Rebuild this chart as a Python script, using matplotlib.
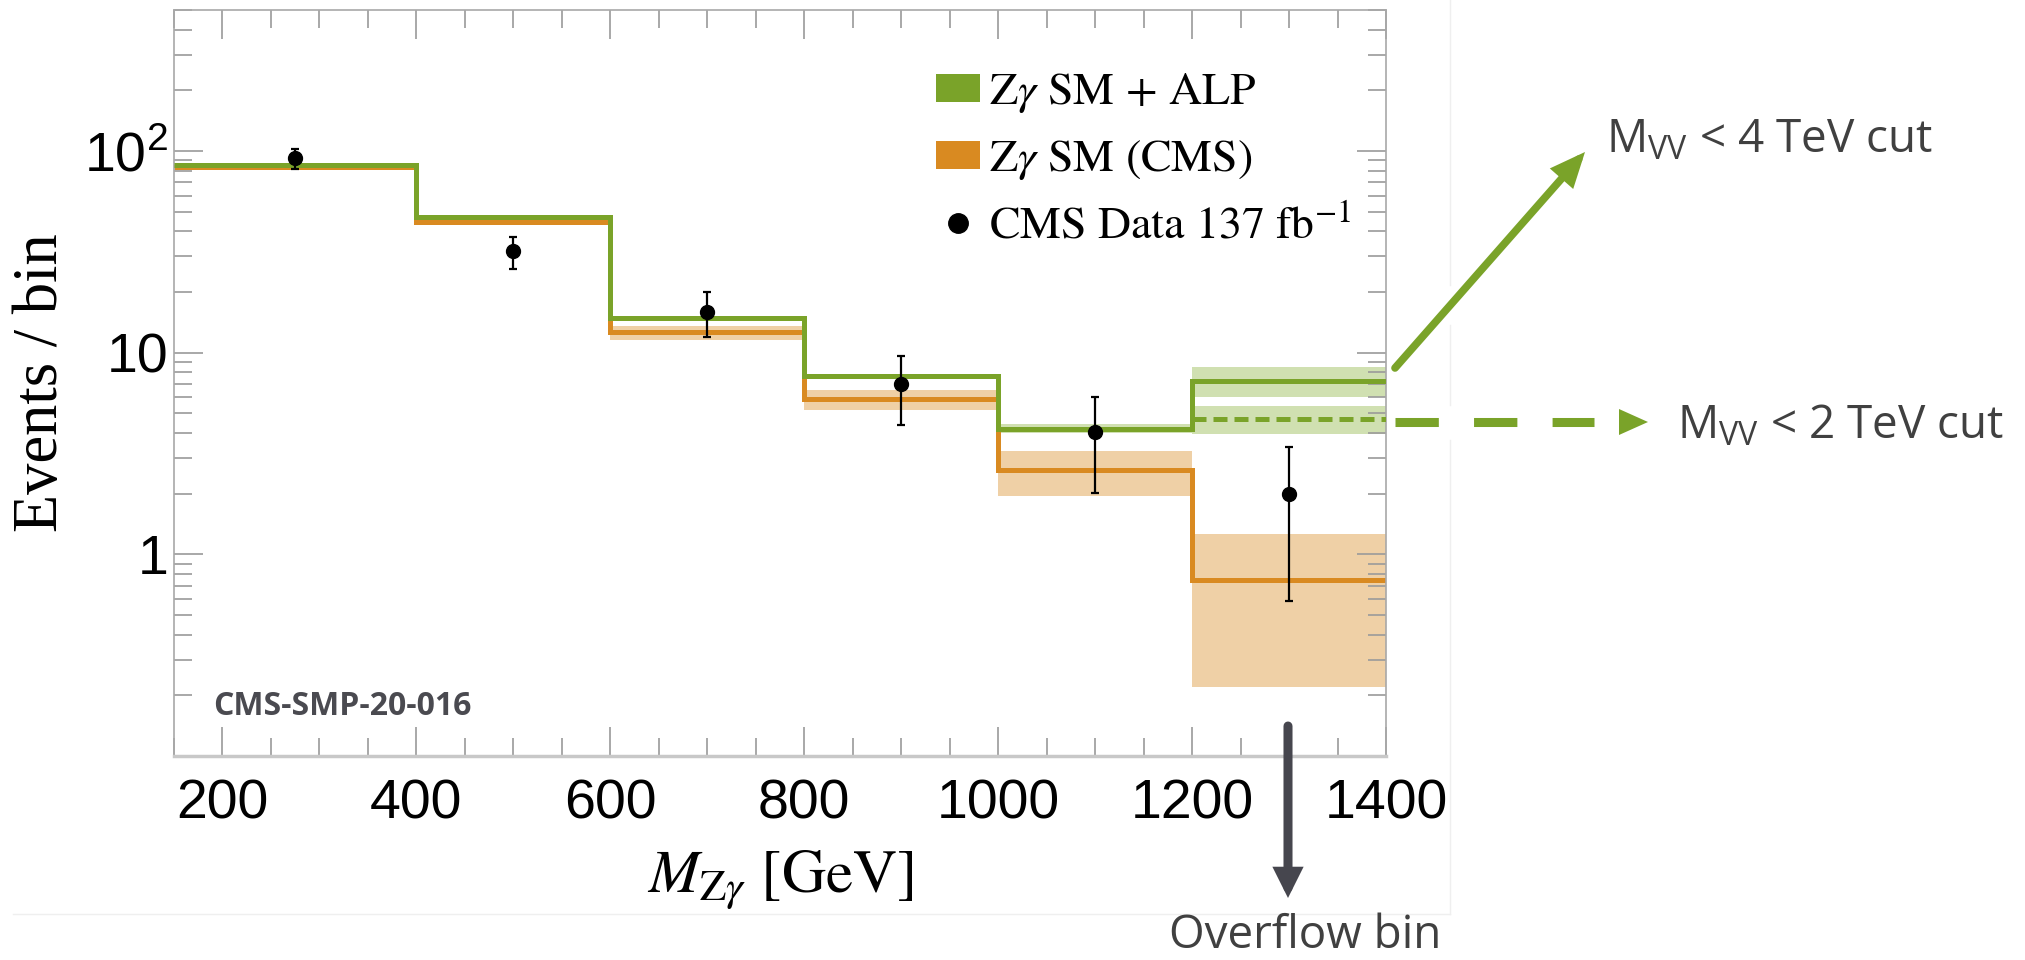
import numpy as np
import matplotlib.pyplot as plt
from matplotlib.patches import Patch, FancyArrowPatch, Polygon
from matplotlib.lines import Line2D

plt.rcParams['font.family'] = 'Liberation Sans'
plt.rcParams['mathtext.fontset'] = 'custom'
plt.rcParams['mathtext.rm'] = 'Open Sans'
plt.rcParams['mathtext.sf'] = 'Liberation Sans'

# bins in M_Zgamma [GeV]
edges = [150, 400, 600, 800, 1000, 1200, 1400]
centers = [275, 500, 700, 900, 1100, 1300]

# Z gamma SM + ALP (M_VV < 4 TeV)
alp = [85, 46.8, 14.8, 7.7, 4.2, 7.25]
alp_lo = [np.nan, np.nan, np.nan, np.nan, 3.98, 6.0]
alp_hi = [np.nan, np.nan, np.nan, np.nan, 4.45, 8.5]
# overflow bin with M_VV < 2 TeV
alp2 = [4.68]
alp2_lo = [3.93]
alp2_hi = [5.44]

# Z gamma SM (CMS)
sm = [83, 44.6, 12.6, 5.86, 2.62, 0.75]
sm_lo = [np.nan, np.nan, 11.6, 5.2, 1.94, 0.22]
sm_hi = [np.nan, np.nan, 13.6, 6.5, 3.26, 1.26]

# CMS data 137 fb^-1
data = [92, 31.8, 15.9, 7.0, 4.06, 1.99]
data_up = [102, 37.6, 19.9, 9.64, 6.04, 3.42]
data_dn = [81, 26.0, 11.9, 4.38, 2.01, 0.586]

green = '#7aa329'
orange = '#d98a21'
green_band = '#d0e0b1'
orange_band = '#efd0a6'
grey_txt = '#404040'

fig = plt.figure(figsize=(20.25, 9.6), dpi=100)

def f(x, y):
    return (x/2025, 1-y/960)

# faint border of the pasted figure (kept clear of the arrows)
fig.add_artist(Line2D([f(13, 0)[0], f(1450, 0)[0]], [f(0, 914)[1]]*2,
                      transform=fig.transFigure, color='#efefef', lw=1, zorder=0))
for y0, y1 in [(0, 285), (325, 405), (440, 914)]:
    fig.add_artist(Line2D([f(1450, 0)[0]]*2, [f(0, y0)[1], f(0, y1)[1]],
                          transform=fig.transFigure, color='#efefef', lw=1, zorder=0))

ax = fig.add_axes([174/2025, 1-756/960, 1212/2025, 746/960])

def bands(lo, hi, color):
    for i in range(len(lo)):
        if np.isnan(lo[i]):
            continue
        ax.bar(edges[i], hi[i]-lo[i], bottom=lo[i], width=edges[i+1]-edges[i],
               align='edge', color=color, lw=0, zorder=1)

bands(sm_lo, sm_hi, orange_band)
bands(alp_lo, alp_hi, green_band)
ax.bar(edges[5], alp2_hi[0]-alp2_lo[0], bottom=alp2_lo[0], width=edges[6]-edges[5],
       align='edge', color=green_band, lw=0, zorder=1)

ax.stairs(sm, edges, baseline=None, color=orange, lw=3.6, zorder=2)
ax.stairs(alp, edges, baseline=None, color=green, lw=3.6, zorder=3)
ax.stairs(alp2, edges[5:], baseline=None, color=green, lw=3.6,
          linestyle=(0, (2.8, 1.4)), zorder=3)

yerr = [np.array(data)-np.array(data_dn), np.array(data_up)-np.array(data)]
ax.errorbar(centers, data, yerr=yerr, fmt='o', color='black', ms=10,
            elinewidth=1.6, capsize=3, capthick=1.6, zorder=4)

ax.set_yscale('log')
ax.set_xlim(150, 1400)
ax.set_ylim(0.1, 500)
ax.set_xticks([200, 400, 600, 800, 1000, 1200, 1400])
ax.set_xticks(np.arange(150, 1401, 50), minor=True)
ax.set_yticks([1, 10, 100])
ax.set_yticklabels(['1', '10', r'10$^{\mathsf{2}}$'])
ax.tick_params(which='both', direction='in', top=True, right=True,
               color='#9a9a9a', width=1.2, labelsize=40)
ax.tick_params(which='major', length=21)
ax.tick_params(which='minor', length=13)
ax.tick_params(axis='x', pad=16)
ax.tick_params(axis='y', pad=4)
for s in ax.spines.values():
    s.set_color('#a8a8a8')
    s.set_linewidth(1.2)
ax.spines['bottom'].set_color('#c8c8c8')
ax.spines['bottom'].set_linewidth(2.5)

ax.set_ylabel('Events / bin', fontfamily='Liberation Serif', fontsize=45)
ax.yaxis.set_label_coords(-0.085, 0.5)
xl = ax.set_xlabel(r'$M_{\mathrm{Z}\gamma}$ [GeV]', fontfamily='STIXGeneral', fontsize=44)
xl.set_math_fontfamily('stix')
ax.xaxis.set_label_coords(0.5, -0.125)

handles = [Patch(facecolor=green), Patch(facecolor=orange),
           Line2D([], [], marker='o', color='black', ls='none', ms=14)]
labels = [r'Z$\gamma$ SM + ALP', r'Z$\gamma$ SM (CMS)', r'CMS Data 137 fb$^{-1}$']
leg = ax.legend(handles, labels, loc='upper left', bbox_to_anchor=(0.629, 0.918),
                frameon=False, prop={'family': 'STIXGeneral', 'size': 33},
                handlelength=0.95, handleheight=0.55, handletextpad=0.2,
                labelspacing=0.5, borderpad=0, borderaxespad=0)
for t in leg.get_texts():
    t.set_math_fontfamily('stix')

ax.text(0.032, 0.055, 'CMS-SMP-20-016', transform=ax.transAxes, fontfamily='Open Sans',
        fontweight='bold', fontsize=23, color='#4a4a50', va='baseline')

# annotations outside the plot
fig.add_artist(FancyArrowPatch(f(1395, 368), f(1585, 152), transform=fig.transFigure,
                               arrowstyle='-|>,head_length=0.8,head_width=0.35',
                               mutation_scale=20, lw=5.5, color=green,
                               shrinkA=0, shrinkB=0, joinstyle='miter', zorder=5))
fig.text(*f(1606, 152), r'M$_{\mathrm{VV}}$ < 4 TeV cut', fontfamily='Open Sans',
         fontsize=33, color=grey_txt, va='baseline')

xs = [f(1395, 422)[0], f(1594, 422)[0]]
fig.add_artist(Line2D(xs, [f(0, 422)[1]]*2, transform=fig.transFigure, color=green,
                      lw=6.5, linestyle=(0, (4.8, 3.9)), zorder=5))
fig.add_artist(Polygon([f(1619, 409), f(1619, 435), f(1648, 422)], closed=True,
                       transform=fig.transFigure, color=green, lw=0, zorder=5))
fig.text(*f(1677, 438), r'M$_{\mathrm{VV}}$ < 2 TeV cut', fontfamily='Open Sans',
         fontsize=33, color=grey_txt, va='baseline')

fig.add_artist(FancyArrowPatch(f(1288, 726), f(1288, 898), transform=fig.transFigure,
                               arrowstyle='-|>,head_length=0.6,head_width=0.3',
                               mutation_scale=20, lw=6.5, color='#46464e',
                               shrinkA=0, shrinkB=0, joinstyle='miter', zorder=5))
fig.text(*f(1305, 948), 'Overflow bin', fontfamily='Open Sans', fontsize=33,
         color=grey_txt, ha='center', va='baseline')

fig.savefig('out.png', dpi=100)
